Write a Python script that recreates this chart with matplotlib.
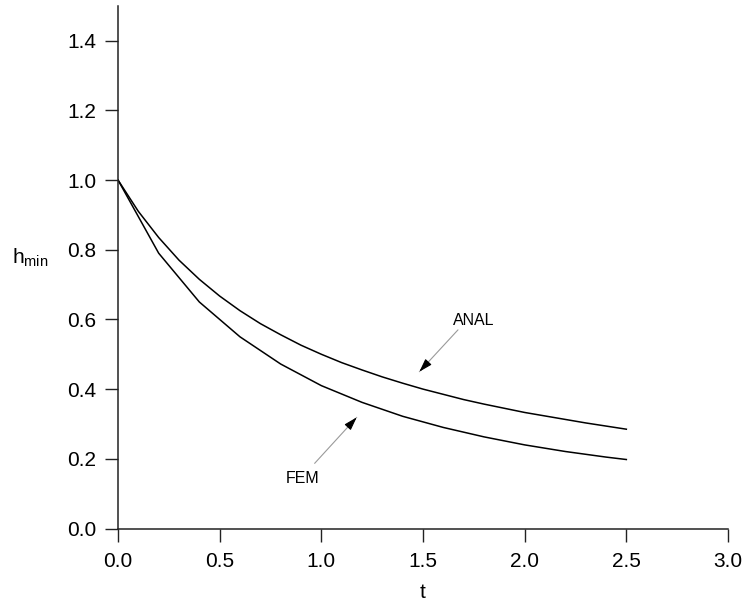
import matplotlib
matplotlib.use("Agg")
import matplotlib.pyplot as plt

plt.rcParams['font.family'] = ['Liberation Sans', 'DejaVu Sans']
plt.rcParams['mathtext.fontset'] = 'custom'
plt.rcParams['mathtext.rm'] = 'Liberation Sans'
plt.rcParams['mathtext.it'] = 'Liberation Sans'

# Analytical solution for minimum film thickness
t_anal = [0.0, 0.1, 0.2, 0.3, 0.4, 0.5, 0.6, 0.7, 0.8, 0.9, 1.0, 1.1, 1.2,
          1.3, 1.4, 1.5, 1.6, 1.7, 1.8, 1.9, 2.0, 2.1, 2.2, 2.3, 2.4, 2.5]
h_anal = [1.0, 0.91, 0.835, 0.77, 0.715, 0.667, 0.625, 0.588, 0.556, 0.526,
          0.50, 0.476, 0.455, 0.435, 0.417, 0.40, 0.385, 0.37, 0.357, 0.345,
          0.333, 0.323, 0.313, 0.303, 0.294, 0.285]

# Finite element results
t_fem = [0.0, 0.2, 0.4, 0.6, 0.8, 1.0, 1.2, 1.4, 1.6, 1.8, 2.0, 2.2, 2.4, 2.5]
h_fem = [1.0, 0.79, 0.65, 0.55, 0.472, 0.41, 0.362, 0.322, 0.29, 0.263,
         0.24, 0.221, 0.205, 0.198]

x_ticks = [0.0, 0.5, 1.0, 1.5, 2.0, 2.5, 3.0]
y_ticks = [0.0, 0.2, 0.4, 0.6, 0.8, 1.0, 1.2, 1.4]

fig = plt.figure(figsize=(7.45, 6.05), dpi=100)
ax = fig.add_axes([0.1584, 0.1264, 0.8188, 0.8641])

ax.plot(t_anal, h_anal, color='black', lw=1.1)
ax.plot(t_fem, h_fem, color='black', lw=1.1)

ax.set_xlim(0, 3.0)
ax.set_ylim(0, 1.5)
ax.set_xticks(x_ticks)
ax.set_yticks(y_ticks)
ax.set_xticklabels([f"{v:.1f}" for v in x_ticks])
ax.set_yticklabels([f"{v:.1f}" for v in y_ticks])
ax.tick_params(direction='out', length=9.5, width=1.0, labelsize=15,
               colors='#222222', labelcolor='black')
ax.tick_params(axis='x', pad=7.5)
ax.tick_params(axis='y', pad=6)
for s in ('top', 'right'):
    ax.spines[s].set_visible(False)
for s in ('left', 'bottom'):
    ax.spines[s].set_linewidth(1.1)
    ax.spines[s].set_color('#222222')


def pointer(tip, tail):
    # thin grey leader line with a solid black head at the curve end
    ax.annotate('', xy=tip, xytext=tail,
                arrowprops=dict(arrowstyle='-', color='#9a9a9a', lw=0.8,
                                shrinkA=0, shrinkB=0))
    near = (tip[0] + 0.06 * (tail[0] - tip[0]), tip[1] + 0.06 * (tail[1] - tip[1]))
    ax.annotate('', xy=tip, xytext=near,
                arrowprops=dict(arrowstyle='-|>,head_length=0.8,head_width=0.25',
                                color='black', lw=0.8, shrinkA=0, shrinkB=0))


pointer((1.482, 0.450), (1.672, 0.570))
pointer((1.174, 0.319), (0.967, 0.187))
ax.text(1.751, 0.584, 'ANAL', fontsize=11.5, ha='center', va='baseline')
ax.text(0.910, 0.130, 'FEM', fontsize=11.5, ha='center', va='baseline')

fig.text(423 / 745, 1 - 598.5 / 605, 't', fontsize=15, ha='center',
         va='baseline')
fig.text(12 / 745, 1 - 263.5 / 605, r'h$_{\mathrm{min}}$', fontsize=15,
         ha='left', va='baseline')

fig.savefig('out.png', dpi=100)
